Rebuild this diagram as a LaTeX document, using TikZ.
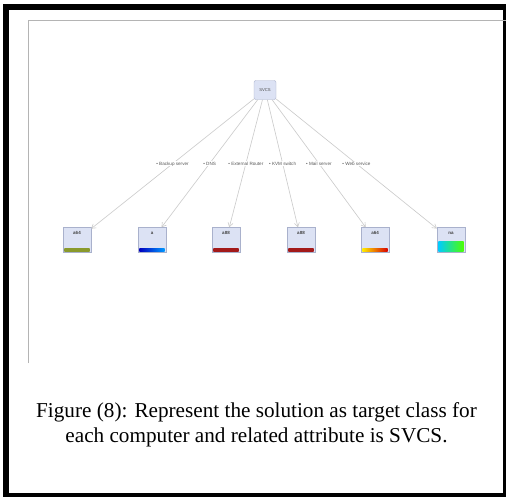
\documentclass[tikz,border=0pt]{standalone}
\usepackage{fontspec}
\setmainfont{Liberation Serif}
\setsansfont{Liberation Sans}
\usetikzlibrary{arrows.meta, calc}
\definecolor{boxfill}{HTML}{DCE2F4}
\definecolor{boxline}{HTML}{A9B1CC}
\definecolor{edgegray}{HTML}{CACACA}
\definecolor{panelgray}{HTML}{B4B4B4}
\definecolor{barolive}{HTML}{8A9A2C}
\definecolor{barred}{HTML}{A31A1A}

\begin{document}
\begin{tikzpicture}[x=1pt, y=-1pt,
    rootbox/.style={draw=boxline, fill=boxfill, rounded corners=2pt, minimum width=22pt, minimum height=19pt, inner sep=1pt, font=\fontsize{4.2}{5}\selectfont\sffamily, text=black!70},
    leafbox/.style={draw=boxline, fill=boxfill, minimum width=28pt, minimum height=25pt, inner sep=1.5pt, text depth=14pt, font=\fontsize{4.5}{5}\selectfont\sffamily\bfseries, text=black!75},
    edge/.style={draw=edgegray, line width=0.6pt, -{Straight Barb[length=4pt, width=5pt]}},
    edgelabel/.style={fill=white, inner sep=0.5pt, font=\fontsize{4.6}{5}\selectfont\sffamily, text=black!65},
    caption/.style={align=center, font=\fontsize{21.2}{24.5}\selectfont}]
    \fill[white] (0,0) rectangle (506,496);
    \clip (0,0) rectangle (506,496);
    \useasboundingbox (0,0) rectangle (506,496);
    % frame and screenshot panel
    \draw[line width=6pt] (6,7) rectangle (506,496);
    \draw[panelgray, line width=1pt] (28,363) -- (28,20) -- (506,20);

    \node[rootbox] (svcs) at (265,90) {SVCS};

    \foreach \i/\x/\lbl/\tag/\ca/\cb/\bh in {
      1/77/a64/Backup server/barolive/barolive/3.5,
      2/152/a/DNS/blue!75!black/cyan!60!blue/3.5,
      3/226/a88/External Router/barred/barred/3.5,
      4/301/a88/KVM switch/barred/barred/3.5,
      5/375/a64/Mail server/yellow!85!orange/red!85!black/3.5,
      6/451/na/Web service/cyan!80!blue/green!70!yellow/10
    } {
      \node[leafbox] (leaf\i) at (\x,240) {\lbl};
      \shade[left color=\ca, right color=\cb] ($(leaf\i.south west)+(1.5,-1)$) rectangle ($(leaf\i.south east)+(-1.5,-1-\bh)$);
      \draw[edge] (svcs) -- node[edgelabel] {\textbullet\ \tag} (leaf\i);
    }

    \node[caption] (cap) at (256.5,425) {Figure (8): Represent the solution as target class for\\each computer and related attribute is SVCS.};
\end{tikzpicture}
\end{document}
